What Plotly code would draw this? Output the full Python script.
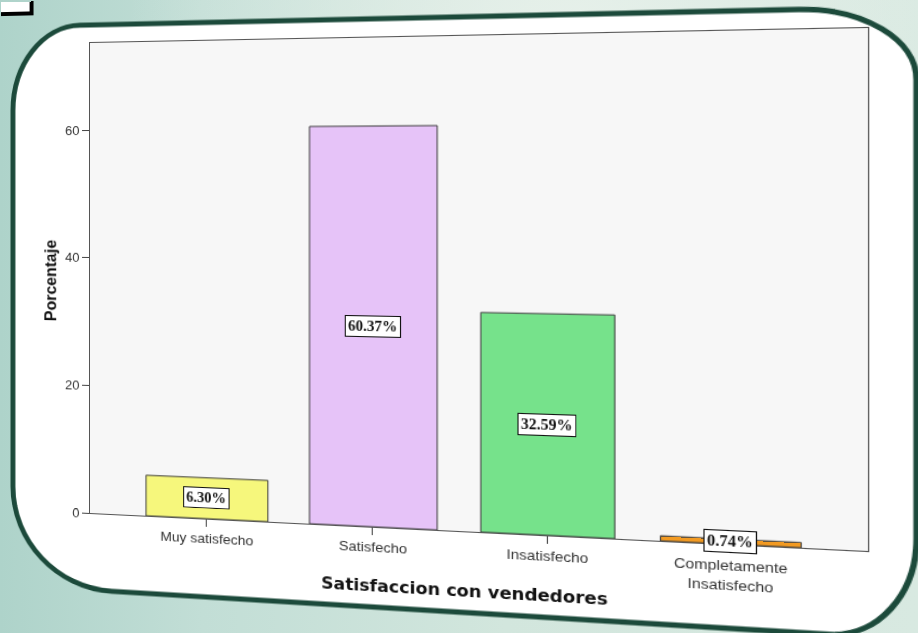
import numpy as np
import plotly.graph_objects as go

# ---- data -------------------------------------------------------------
categories = ["Muy satisfecho", "Satisfecho", "Insatisfecho", "Completamente Insatisfecho"]
tick_labels = ["Muy satisfecho", "Satisfecho", "Insatisfecho", "Completamente<br>Insatisfecho"]
percentages = [6.30, 60.37, 32.59, 0.74]
y_ticks = [0, 20, 40, 60]
bar_colors = ["#f6f77c", "#e6c3f8", "#76e28b", "#f29a22"]

# ---- page geometry (pixels) ---------------------------------------------
W, H = 918, 633
PL, PR, PT, PB = 90, 790, 43, 513          # plotting rectangle before tilt


def fx(px):
    return (px - PL) / (PR - PL)


def fy(py):
    return (PB - py) / (PB - PT)


def P(x, y):
    return f"{fx(x):.5f},{fy(y):.5f}"


def rounded_path(x0, y0, x1, y1, tl, tr, br, bl):
    k = 0.5523
    (tlx, tly), (trx, tr_y), (brx, bry), (blx, bly) = tl, tr, br, bl
    return (
        f"M {P(x0 + tlx, y0)} L {P(x1 - trx, y0)} "
        f"C {P(x1 - trx + k * trx, y0)} {P(x1, y0 + tr_y - k * tr_y)} {P(x1, y0 + tr_y)} "
        f"L {P(x1, y1 - bry)} "
        f"C {P(x1, y1 - bry + k * bry)} {P(x1 - brx + k * brx, y1)} {P(x1 - brx, y1)} "
        f"L {P(x0 + blx, y1)} "
        f"C {P(x0 + blx - k * blx, y1)} {P(x0, y1 - bly + k * bly)} {P(x0, y1 - bly)} "
        f"L {P(x0, y0 + tly)} "
        f"C {P(x0, y0 + tly - k * tly)} {P(x0 + tlx - k * tlx, y0)} {P(x0 + tlx, y0)} Z"
    )


# ---- figure -------------------------------------------------------------
fig = go.Figure()
fig.add_trace(go.Bar(
    x=categories,
    y=percentages,
    marker=dict(color=bar_colors, line=dict(color="#3a3a3a", width=1)),
    hoverinfo="skip",
))

# value boxes centred in each bar
for cat, val in zip(categories, percentages):
    fig.add_annotation(
        x=cat, y=val / 2, text=f"{val:.2f}%", showarrow=False,
        font=dict(family="Liberation Serif, Times New Roman, serif", size=14,
                  color="#111111", weight="bold"),
        bgcolor="white", bordercolor="#111111", borderwidth=1, borderpad=2,
    )

# axis titles
fig.add_annotation(
    xref="paper", yref="paper", x=fx(50), y=fy(281), text="Porcentaje",
    textangle=-90, showarrow=False, xanchor="center", yanchor="middle",
    font=dict(family="Liberation Sans, Arial, sans-serif", size=16,
              color="#111111", weight="bold"),
)
fig.add_annotation(
    xref="paper", yref="paper", x=fx(443), y=fy(569),
    text="Satisfaccion con vendedores", showarrow=False,
    xanchor="center", yanchor="middle",
    font=dict(family="DejaVu Sans, Verdana, sans-serif", size=16,
              color="#111111", weight="bold"),
)

shapes = [
    # rounded white card with dark green rim
    dict(type="path", xref="paper", yref="paper", layer="below",
         path=rounded_path(12, 25, 829, 590, (68, 85), (95, 65), (70, 90), (100, 100)),
         fillcolor="white", line=dict(color="#1c4a3b", width=5)),
    # light grey plotting area
    dict(type="rect", xref="paper", yref="paper", layer="below",
         x0=0, x1=1, y0=0, y1=1, fillcolor="#f7f7f7", line=dict(width=0)),
    # small boxed corner marker
    dict(type="rect", xref="paper", yref="paper", layer="below",
         x0=fx(-10), x1=fx(31), y0=fy(-10), y1=fy(12),
         fillcolor="white", line=dict(color="black", width=4)),
]

fig.update_layout(
    width=W, height=H,
    margin=dict(l=PL, r=W - PR, t=PT, b=H - PB, pad=0),
    paper_bgcolor="rgba(0,0,0,0)",
    plot_bgcolor="rgba(0,0,0,0)",
    showlegend=False,
    bargap=0.25,
    shapes=shapes,
    font=dict(family="Liberation Sans, Arial, sans-serif", color="#333333"),
)
fig.update_xaxes(
    type="category", range=[-0.729, 3.721],
    tickmode="array", tickvals=categories, ticktext=tick_labels,
    ticks="outside", ticklen=7, tickcolor="#444444",
    tickfont=dict(size=13.5, color="#333333"),
    showline=True, linecolor="#555555", linewidth=1, mirror=True,
    showgrid=False, zeroline=False, fixedrange=True,
)
fig.update_yaxes(
    range=[0, 73.7], tickvals=y_ticks,
    ticks="outside", ticklen=7, tickcolor="#444444",
    tickfont=dict(size=13, color="#333333"),
    showline=True, linecolor="#555555", linewidth=1, mirror=True,
    showgrid=False, zeroline=False, fixedrange=True,
)

# ---- perspective tilt of the whole card ----------------------------------
src = [(PL, PT), (PR, PT), (PR, PB), (PL, PB)]
dst = [(90, 43), (868, 28), (868, 551), (90, 513)]
A, b = [], []
for (x, y), (X, Y) in zip(src, dst):
    A.append([x, y, 1, 0, 0, 0, -X * x, -X * y]); b.append(X)
    A.append([0, 0, 0, x, y, 1, -Y * x, -Y * y]); b.append(Y)
h = np.linalg.solve(np.array(A, float), np.array(b, float))
m3d = [h[0], h[3], 0, h[6], h[1], h[4], 0, h[7], 0, 0, 1, 0, h[2], h[5], 0, 1]
m3d_css = "matrix3d(" + ",".join(f"{v:.10f}" for v in m3d) + ")"

page_bg = ("radial-gradient(ellipse at 62% 8%, rgba(232,241,235,0.95) 0%, rgba(232,241,235,0) 55%), "
           "linear-gradient(90deg, #aed3ca 0%, #c2ded6 22%, #d2e6dd 55%, #d8e9e1 100%)")

post = (
    "var gd = document.getElementById('{plot_id}');"
    "document.documentElement.style.margin = '0';"
    "document.documentElement.style.overflow = 'hidden';"
    f"document.documentElement.style.background = '{page_bg}';"
    "document.body.style.margin = '0';"
    "document.body.style.overflow = 'hidden';"
    "document.body.style.background = 'transparent';"
    "gd.style.transformOrigin = '0 0';"
    f"gd.style.transform = '{m3d_css}';"
)

fig.write_html("out.html", config={"displayModeBar": False}, post_script=post)
